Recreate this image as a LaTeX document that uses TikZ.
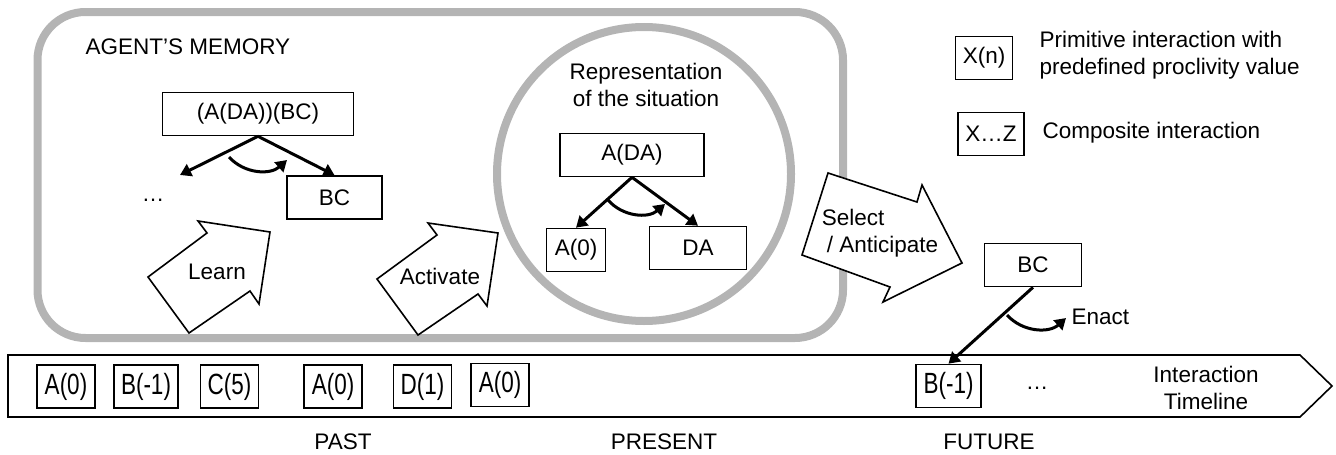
\documentclass[tikz,border=0pt]{standalone}
\usepackage{fontspec}
\setmainfont{Liberation Sans}
\usepackage{tikz}
\usetikzlibrary{shapes,positioning,arrows.meta,calc}
\definecolor{memgray}{RGB}{180,180,180}
\newcommand{\tltxt}[1]{\scalebox{1}[1.3]{#1}}

\begin{document}
\begin{tikzpicture}[x=1pt,y=-1pt,
	every node/.style={font=\fontsize{22.5}{26.5}\selectfont},
	memline/.style={draw=memgray,line width=8pt},
	ibox/.style={draw,line width=1.6pt,inner sep=0pt,minimum height=43pt},
	tbox/.style={ibox,minimum width=58pt},
	tarrow/.style={line width=3pt,-{Triangle[length=11pt,width=13pt]}},
	barrow/.style={draw,fill=white,line width=1.6pt,line join=miter}]
	\useasboundingbox (0,0) rectangle (1336,455);

	% agent's memory
	\draw[memline,rounded corners=48pt] (37.5,12) rectangle (843,338);
	\node[anchor=west] (memlabel) at (82,47) {AGENT’S MEMORY};
	\node[ibox,minimum width=191pt] (mtop) at (258,114) {(A(DA))(BC)};
	\node[ibox,minimum width=95pt] (mbc) at (334.5,197.5) {BC};
	\node (mdots) at (153,200) {…};
	\coordinate (mleft) at (180,175);
	\draw[tarrow] (mtop.south) -- (mleft);
	\draw[tarrow] (mtop.south) -- (mbc.north);
	\coordinate (mc1) at (229,157);
	\coordinate (mc2) at (287,160);
	\draw[tarrow] (mc1) to[bend right=45] (mc2);

	% representation of the situation
	\draw[memline] (644,174) circle[radius=147pt];
	\node[align=center] (sitlabel) at (646,85) {Representation\\of the situation};
	\node[ibox,minimum width=144pt] (sit) at (632,155) {A(DA)};
	\node[ibox,minimum width=59pt] (sa) at (576,250) {A(0)};
	\node[ibox,minimum width=97pt] (sda) at (698,248) {DA};
	\draw[tarrow] (sit.south) -- (sa.north);
	\draw[tarrow] (sit.south) -- (sda.north);
	\coordinate (sc1) at (608,200);
	\coordinate (sc2) at (665,204);
	\draw[tarrow] (sc1) to[bend right=45] (sc2);

	% block arrows
	\draw[barrow] (148,277) -- (207,233) -- (198,221) -- (270,232) -- (259,304) -- (250,291) -- (189,333) -- cycle;
	\node (learn) at (217,272) {Learn};
	\draw[barrow] (377,279) -- (437,235) -- (428,223) -- (498,233) -- (487,306) -- (478,294) -- (418,335) -- cycle;
	\node (activate) at (440,276) {Activate};
	\draw[barrow] (828,173) -- (917,202) -- (922,185) -- (962,263) -- (883,302) -- (890,287) -- (802,255) -- cycle;
	\node[align=left] (select) at (880,233) {Select\\\hspace{5pt}/ Anticipate};

	% legend
	\node[ibox,minimum width=57pt] (lprim) at (984,58) {X(n)};
	\node[anchor=west,align=left] (lprimtxt) at (1036,55) {Primitive interaction with\\predefined proclivity value};
	\node[ibox,minimum width=66pt] (lcomp) at (991,134) {X…Z};
	\node[anchor=west] (lcomptxt) at (1039,133) {Composite interaction};

	% timeline
	\draw[line width=1.6pt] (8,355) -- (1300,355) -- (1332,386) -- (1300,417) -- (8,417) -- cycle;
	\node[tbox] (t1) at (66,386.5) {\tltxt{A(0)}};
	\node[tbox,minimum width=64pt] (t2) at (146,386.5) {\tltxt{B(-1)}};
	\node[tbox] (t3) at (229.5,386.5) {\tltxt{C(5)}};
	\node[tbox] (t4) at (333,386.5) {\tltxt{A(0)}};
	\node[tbox] (t5) at (422.5,386.5) {\tltxt{D(1)}};
	\node[tbox] (t6) at (500,385) {\tltxt{A(0)}};
	\node[tbox,minimum width=65pt] (tb) at (948.5,386) {\tltxt{B(-1)}};
	\node (tdots) at (1037,388) {…};
	\node[align=center] (tlabel) at (1206,388) {Interaction\\Timeline};

	% enact
	\node[ibox,minimum width=97pt] (fbc) at (1033,265) {BC};
	\draw[tarrow] (fbc.south) -- (tb.north);
	\coordinate (ec1) at (1007,315);
	\coordinate (ec2) at (1066,318);
	\draw[tarrow] (ec1) to[bend right=45] (ec2);
	\node[anchor=west] (enact) at (1068,317) {Enact};

	\node (past) at (343,442) {PAST};
	\node (present) at (664,442) {PRESENT};
	\node (future) at (989,442) {FUTURE};
\end{tikzpicture}
\end{document}
